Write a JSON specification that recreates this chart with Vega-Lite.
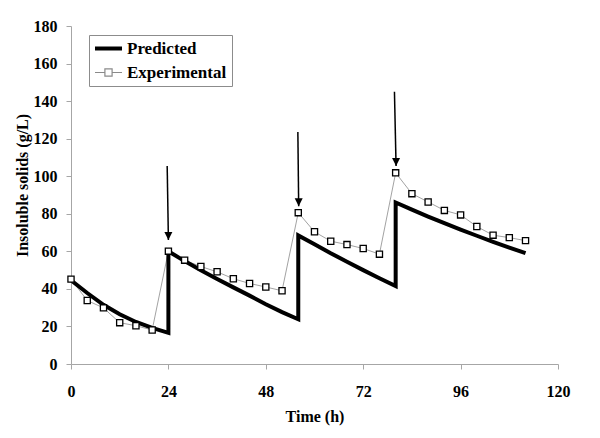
{
  "$schema": "https://vega.github.io/schema/vega-lite/v6.json",
  "autosize": "none",
  "width": 487,
  "height": 338,
  "padding": {"left": 71, "top": 26, "right": 42, "bottom": 74},
  "background": "white",
  "config": {
    "view": {"stroke": null},
    "font": "Liberation Serif",
    "axis": {
      "grid": false,
      "domainColor": "#a6a6a6",
      "tickColor": "#a6a6a6",
      "tickSize": 5,
      "labelOverlap": false,
      "labelFlush": false,
      "labelFont": "Liberation Serif",
      "labelFontSize": 16,
      "labelFontWeight": "bold",
      "labelColor": "black",
      "titleFont": "Liberation Serif",
      "titleFontSize": 16,
      "titleFontWeight": "bold",
      "titleColor": "black"
    }
  },
  "datasets": {
    "series": [
      {"series": "Experimental", "seq": 1, "t": 0, "v": 45.2},
      {"series": "Experimental", "seq": 2, "t": 4, "v": 33.8},
      {"series": "Experimental", "seq": 3, "t": 8, "v": 29.9},
      {"series": "Experimental", "seq": 4, "t": 12, "v": 22.0},
      {"series": "Experimental", "seq": 5, "t": 16, "v": 20.4},
      {"series": "Experimental", "seq": 6, "t": 20, "v": 18.1},
      {"series": "Experimental", "seq": 7, "t": 24, "v": 60.1},
      {"series": "Experimental", "seq": 8, "t": 28, "v": 55.3},
      {"series": "Experimental", "seq": 9, "t": 32, "v": 51.9},
      {"series": "Experimental", "seq": 10, "t": 36, "v": 49.1},
      {"series": "Experimental", "seq": 11, "t": 40, "v": 45.4},
      {"series": "Experimental", "seq": 12, "t": 44, "v": 42.9},
      {"series": "Experimental", "seq": 13, "t": 48, "v": 41.0},
      {"series": "Experimental", "seq": 14, "t": 52, "v": 39.0},
      {"series": "Experimental", "seq": 15, "t": 56, "v": 80.6},
      {"series": "Experimental", "seq": 16, "t": 60, "v": 70.4},
      {"series": "Experimental", "seq": 17, "t": 64, "v": 65.4},
      {"series": "Experimental", "seq": 18, "t": 68, "v": 63.6},
      {"series": "Experimental", "seq": 19, "t": 72, "v": 61.5},
      {"series": "Experimental", "seq": 20, "t": 76, "v": 58.5},
      {"series": "Experimental", "seq": 21, "t": 80, "v": 101.8},
      {"series": "Experimental", "seq": 22, "t": 84, "v": 90.7},
      {"series": "Experimental", "seq": 23, "t": 88, "v": 86.3},
      {"series": "Experimental", "seq": 24, "t": 92, "v": 81.8},
      {"series": "Experimental", "seq": 25, "t": 96, "v": 79.4},
      {"series": "Experimental", "seq": 26, "t": 100, "v": 73.2},
      {"series": "Experimental", "seq": 27, "t": 104, "v": 68.6},
      {"series": "Experimental", "seq": 28, "t": 108, "v": 67.3},
      {"series": "Experimental", "seq": 29, "t": 112, "v": 65.7},
      {"series": "Predicted", "seq": 1, "t": 0, "v": 44.6},
      {"series": "Predicted", "seq": 2, "t": 4, "v": 37.8},
      {"series": "Predicted", "seq": 3, "t": 8, "v": 31.5},
      {"series": "Predicted", "seq": 4, "t": 12, "v": 26.5},
      {"series": "Predicted", "seq": 5, "t": 16, "v": 22.4},
      {"series": "Predicted", "seq": 6, "t": 20, "v": 19.2},
      {"series": "Predicted", "seq": 7, "t": 24, "v": 16.6},
      {"series": "Predicted", "seq": 8, "t": 24, "v": 60.0},
      {"series": "Predicted", "seq": 9, "t": 28, "v": 54.8},
      {"series": "Predicted", "seq": 10, "t": 32, "v": 49.9},
      {"series": "Predicted", "seq": 11, "t": 36, "v": 45.3},
      {"series": "Predicted", "seq": 12, "t": 40, "v": 40.8},
      {"series": "Predicted", "seq": 13, "t": 44, "v": 36.4},
      {"series": "Predicted", "seq": 14, "t": 48, "v": 31.8},
      {"series": "Predicted", "seq": 15, "t": 52, "v": 27.6},
      {"series": "Predicted", "seq": 16, "t": 56, "v": 23.8},
      {"series": "Predicted", "seq": 17, "t": 56, "v": 68.5},
      {"series": "Predicted", "seq": 18, "t": 60, "v": 63.8},
      {"series": "Predicted", "seq": 19, "t": 64, "v": 59.0},
      {"series": "Predicted", "seq": 20, "t": 68, "v": 54.5},
      {"series": "Predicted", "seq": 21, "t": 72, "v": 50.0},
      {"series": "Predicted", "seq": 22, "t": 76, "v": 45.7},
      {"series": "Predicted", "seq": 23, "t": 80, "v": 41.5},
      {"series": "Predicted", "seq": 24, "t": 80, "v": 86.0},
      {"series": "Predicted", "seq": 25, "t": 84, "v": 82.2},
      {"series": "Predicted", "seq": 26, "t": 88, "v": 78.5},
      {"series": "Predicted", "seq": 27, "t": 92, "v": 75.0},
      {"series": "Predicted", "seq": 28, "t": 96, "v": 71.6},
      {"series": "Predicted", "seq": 29, "t": 100, "v": 68.3},
      {"series": "Predicted", "seq": 30, "t": 104, "v": 65.1},
      {"series": "Predicted", "seq": 31, "t": 108, "v": 62.0},
      {"series": "Predicted", "seq": 32, "t": 112, "v": 59.0}
    ],
    "arrows": [
      {"t0": 23.7, "v0": 105.5, "t1": 24.0, "v1": 66.0},
      {"t0": 55.9, "v0": 123.5, "t1": 56.1, "v1": 84.0},
      {"t0": 79.7, "v0": 145.0, "t1": 80.1, "v1": 105.5}
    ]
  },
  "layer": [
    {
      "data": {"name": "series"},
      "transform": [{"filter": "datum.series === 'Experimental'"}],
      "mark": {"type": "line", "strokeWidth": 0.8},
      "encoding": {
        "x": {"field": "t", "type": "quantitative",
              "scale": {"domain": [0, 120], "nice": false},
              "axis": {"values": [0, 24, 48, 72, 96, 120], "title": "Time (h)", "labelPadding": 14, "titlePadding": 9}},
        "y": {"field": "v", "type": "quantitative",
              "scale": {"domain": [0, 180], "nice": false},
              "axis": {"values": [0, 20, 40, 60, 80, 100, 120, 140, 160, 180], "tickCount": 10, "labelOverlap": false, "labelBound": false, "title": "Insoluble solids (g/L)", "labelPadding": 9, "titlePadding": 3, "titleY": 159}},
        "order": {"field": "seq", "type": "quantitative"},
        "color": {
          "field": "series", "type": "nominal",
          "scale": {"domain": ["Predicted", "Experimental"], "range": ["black", "#8a8a8a"]},
          "legend": {
            "title": null,
            "orient": "none",
            "legendX": 18,
            "legendY": 9,
            "padding": 5,
            "strokeColor": "#8c8c8c",
            "fillColor": "white",
            "symbolSize": 324,
            "symbolOffset": 6,
            "labelOffset": 10,
            "rowPadding": 6,
            "labelFont": "Liberation Serif",
            "labelFontSize": 17,
            "labelFontWeight": "bold",
            "labelColor": "black",
            "encode": {
              "symbols": {
                "update": {
                  "shape": {"signal": "datum.value === 'Predicted' ? 'M-1.5,0H1.5' : 'M-1.5,0H-0.4M0.4,0H1.5M-0.4,-0.4H0.4V0.4H-0.4Z'"},
                  "strokeWidth": {"signal": "datum.value === 'Predicted' ? 4 : 1.2"},
                  "stroke": {"value": "black"},
                  "fill": {"value": "white"},
                  "opacity": {"value": 1}
                }
              }
            }
          }
        }
      }
    },
    {
      "data": {"name": "series"},
      "transform": [{"filter": "datum.series === 'Predicted'"}],
      "mark": {"type": "line", "strokeWidth": 4, "strokeJoin": "miter", "strokeMiterLimit": 20},
      "encoding": {
        "x": {"field": "t", "type": "quantitative"},
        "y": {"field": "v", "type": "quantitative"},
        "order": {"field": "seq", "type": "quantitative"},
        "color": {"field": "series", "type": "nominal"}
      }
    },
    {
      "data": {"name": "series"},
      "transform": [{"filter": "datum.series === 'Experimental'"}],
      "mark": {"type": "point", "shape": "square", "filled": true, "fill": "white", "stroke": "black", "strokeWidth": 1.3, "size": 38, "opacity": 1},
      "encoding": {
        "x": {"field": "t", "type": "quantitative"},
        "y": {"field": "v", "type": "quantitative"}
      }
    },
    {
      "data": {"name": "arrows"},
      "mark": {"type": "rule", "color": "black", "strokeWidth": 1.5},
      "encoding": {
        "x": {"field": "t0", "type": "quantitative"},
        "y": {"field": "v0", "type": "quantitative"},
        "x2": {"field": "t1"},
        "y2": {"field": "v1"}
      }
    },
    {
      "data": {"name": "arrows"},
      "mark": {"type": "point", "shape": "M-1,-2L1,-2L0,0Z", "filled": true, "color": "black", "size": 64, "opacity": 1},
      "encoding": {
        "x": {"field": "t1", "type": "quantitative"},
        "y": {"field": "v1", "type": "quantitative"}
      }
    }
  ]
}
